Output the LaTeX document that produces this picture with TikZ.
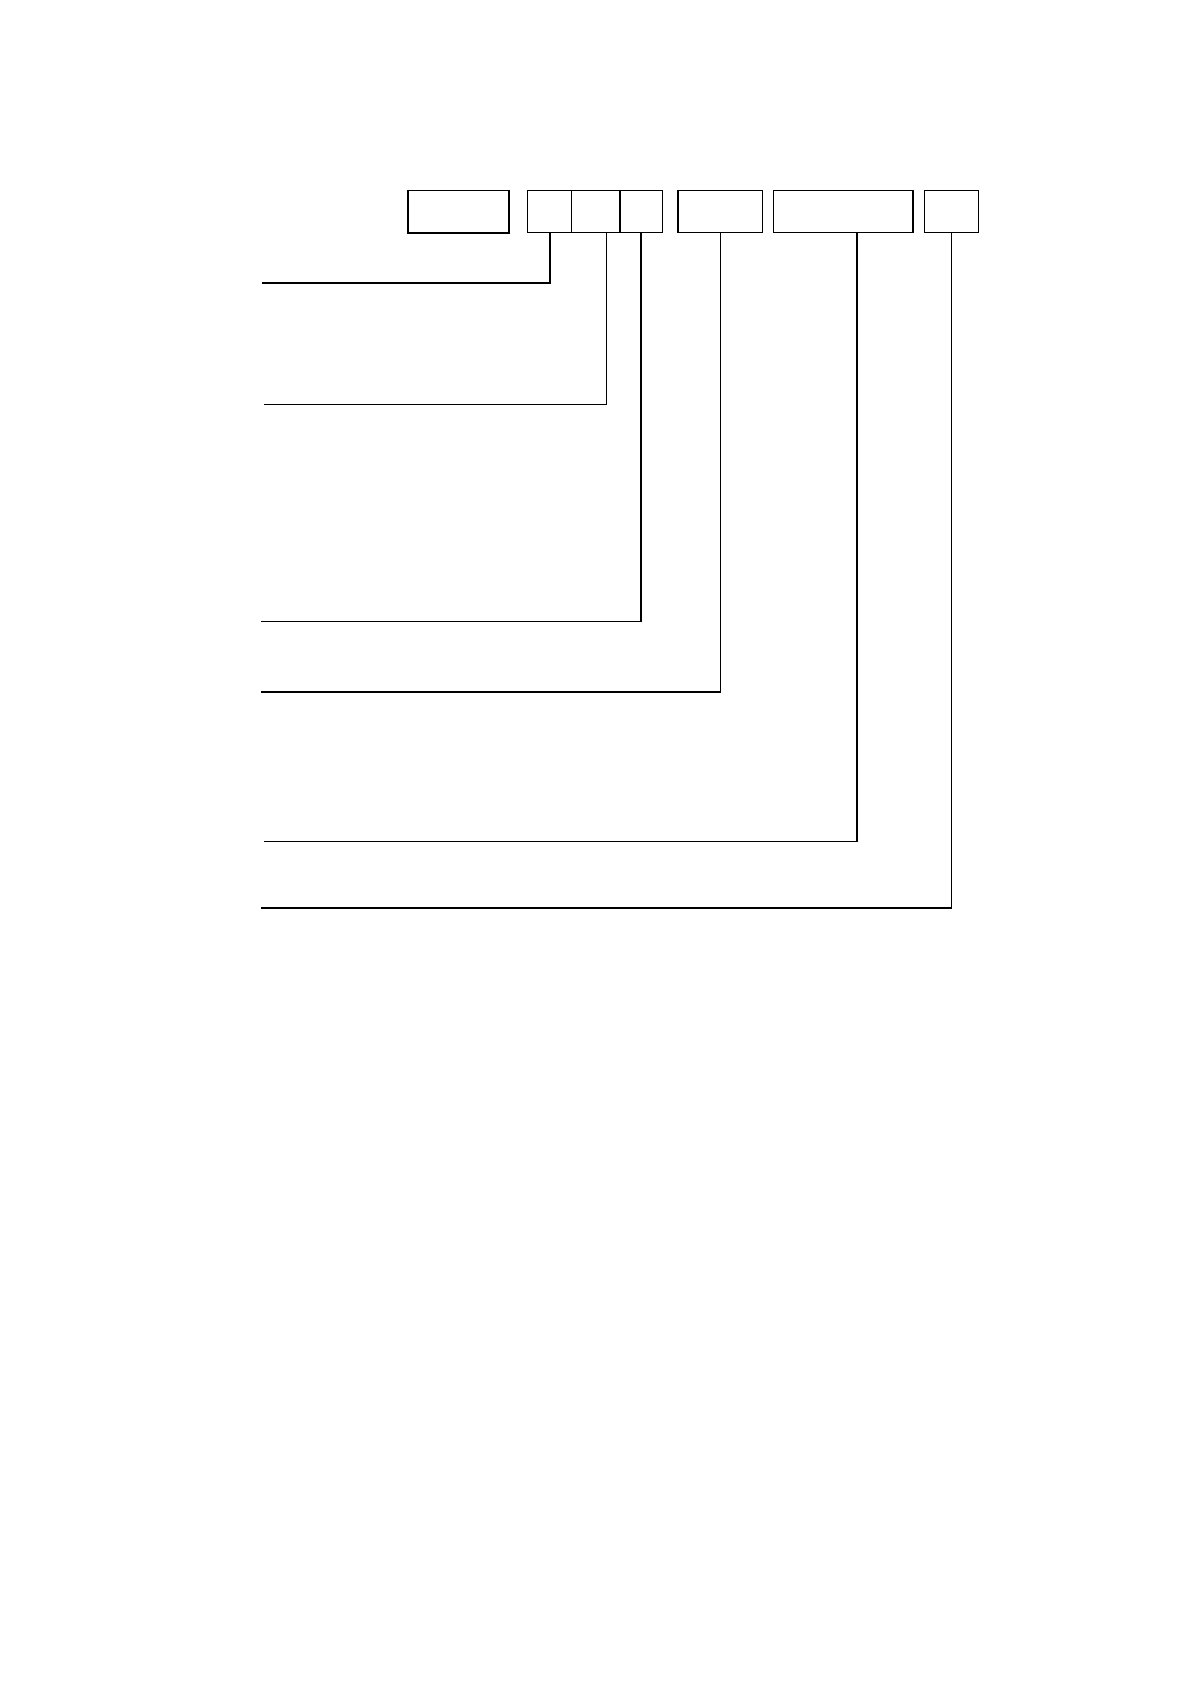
\documentclass[tikz,border=0pt]{standalone}
\begin{document}
\begin{tikzpicture}[x=0.5pt,y=-0.5pt,
  cell/.style={draw,line width=0.6pt,inner sep=0pt,outer sep=0pt,anchor=north west,minimum height=21pt},
  thickln/.style={line width=1pt},
  thinln/.style={line width=0.55pt},
  mixln/.style={line width=0.55pt}]
\useasboundingbox[fill=white] (0,0) rectangle (1191,1684);
% boxes
\node[cell,minimum width=50.5pt,minimum height=21.25pt] (b1) at (408,190.5) {};
\node[cell,minimum width=22pt] (ca) at (527.5,190.5) {};
\node[cell,minimum width=24.25pt] (cb) at (571.5,190.5) {};
\node[cell,minimum width=21.15pt] (cc) at (620,190.5) {};
\draw[line width=1pt] (cc.north west) -- (cc.south west);
\node[cell,minimum width=42.25pt] (b4) at (678,190.5) {};
\node[cell,minimum width=69.75pt] (b5) at (773.5,190.5) {};
\node[cell,minimum width=27pt] (b6) at (924.5,190.5) {};
% free ends
\coordinate (e1) at (262,283.5);
\coordinate (e2) at (264,404.3);
\coordinate (e3) at (261,621.5);
\coordinate (e4) at (261,691.7);
\coordinate (e5) at (264,841.3);
\coordinate (e6) at (261,907.7);
% connectors
\draw[thickln,line join=miter] (ca.south) |- (e1);
\draw[thinln,line join=miter] ([xshift=5.4pt]cb.south) |- (e2);
\draw[thickln] (cc.south) -- (cc.south |- e3);
\draw[thinln] ([xshift=0.5pt]cc.south |- e3) -- (e3);
\draw[thinln] (b4.south) -- (b4.south |- e4);
\draw[thickln] ([xshift=0.25pt]b4.south |- e4) -- (e4);
\draw[thickln] ([xshift=6.9pt]b5.south) -- ([xshift=6.9pt]b5.south |- e5);
\draw[thinln] ([xshift=7.4pt]b5.south |- e5) -- (e5);
\draw[thinln] (b6.south) -- (b6.south |- e6);
\draw[thickln] ([xshift=0.25pt]b6.south |- e6) -- (e6);
\end{tikzpicture}
\end{document}
